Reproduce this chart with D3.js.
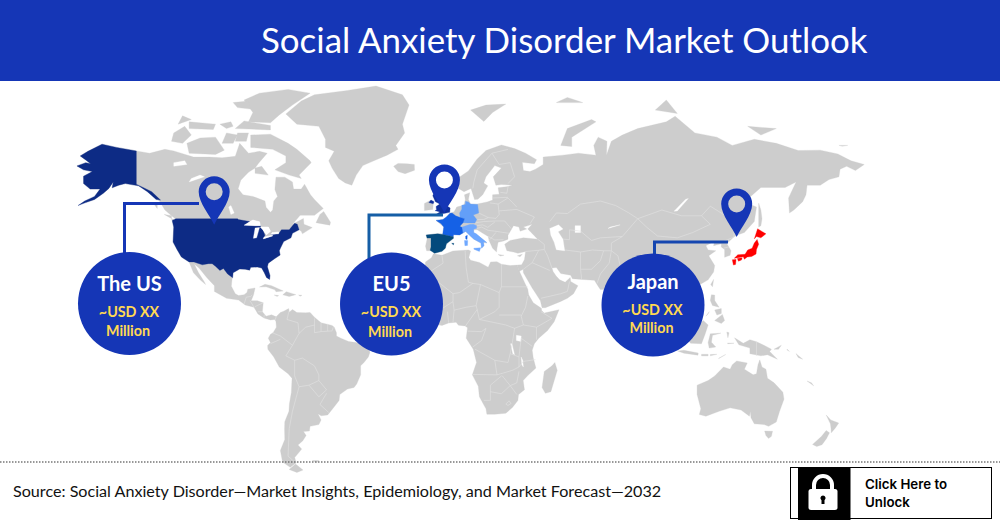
<!DOCTYPE html>
<html>
<head>
<meta charset="utf-8">
<script src="https://cdn.jsdelivr.net/npm/d3@7"></script>
<style>
  html, body { margin: 0; padding: 0; background: #fff; }
  svg { display: block; }
  text { font-family: Lato, sans-serif; }
</style>
</head>
<body>
<div id="holder"></div>
<script>
// DATA (lon, lat outlines)
const titleText = "Social Anxiety Disorder Market Outlook";
const sourceText = "Source: Social Anxiety Disorder\u2014Market Insights, Epidemiology, and Market Forecast\u20142032";
const unlockLines = ["Click Here to", "Unlock"];
const regionNames = ["The US", "EU5", "Japan"];
const regionValues = ["~USD XX", "~USD XX", "~USD XX"];
const regionUnits = ["Million", "Million", "Million"];
const pinLon = [-105.6, -0.9, 132];
const pinLat = [46.8, 51, 42.3];

const northAmerica = [[-168,65.6],[-164,66.5],[-161.8,66.2],[-163.7,67.1],[-166.5,68.3],[-163,69.5],[-156.6,71.3],[-150,70.5],[-141,69.6],[-135,69],[-128,70],[-124,69.6],[-115,68],[-108,68],[-102,67.8],[-96,68.2],[-94,71.5],[-90,69],[-85,69.5],[-81.5,69],[-85.5,66.3],[-87,65],[-90,63.8],[-93.5,61.5],[-94.7,58.9],[-92.5,57],[-88,56.5],[-82.5,55],[-82,52.9],[-80,51.2],[-79,52],[-78.5,55],[-76.8,56.5],[-78,58.7],[-77.5,62.4],[-73.5,62.4],[-70,61],[-69.5,58.8],[-66,58.8],[-64.5,60.3],[-61.8,57],[-60,55.5],[-56,52.5],[-60,50.2],[-66.5,50.2],[-70,47],[-65,49.1],[-64.8,47],[-61,45.8],[-65.5,43.5],[-66,44.5],[-67,45],[-70,43.7],[-70.7,42],[-74,40.6],[-75.5,38],[-76,37],[-75.6,35.3],[-78,33.9],[-81,32],[-81.4,30.5],[-80.2,26.8],[-80.4,25.2],[-81.8,26],[-82.8,28],[-84,30],[-86,30.4],[-89,30.3],[-89.5,29.1],[-91.5,29.5],[-94,29.6],[-97,28],[-97.5,25],[-97.8,22.3],[-96,19],[-94.5,18.2],[-92,18.6],[-90.7,19.5],[-90.3,21],[-87,21.5],[-87.7,18.5],[-88.8,15.9],[-86,15.9],[-83.3,15],[-83.7,11],[-82,9],[-79.5,9.6],[-77.4,8.7],[-78,7.5],[-80,7.3],[-83,8.2],[-85.7,10],[-87.5,13],[-91.5,14],[-94.5,16.2],[-100,17],[-105.5,20],[-105.5,22.5],[-109,26],[-112.5,30],[-114.7,31.7],[-112.7,28],[-110,24],[-109.5,23],[-112,25],[-115,28],[-117,32.5],[-120.5,34.5],[-122.5,37.5],[-124.3,40.4],[-124,46],[-124.7,48.4],[-122.5,48.5],[-125,50],[-128,52],[-130.3,54.8],[-133.5,57.5],[-137,58.8],[-140,59.8],[-146,60.5],[-149,60],[-152,59.2],[-151.5,61],[-153.5,59],[-156,57.5],[-160,55.5],[-164,54.5],[-160,56.5],[-157.5,58.8],[-162,58.8],[-165,60.5],[-165,62.7],[-161,64],[-165,64.5]];
const southAmerica = [[-77.4,8.7],[-75.5,10.7],[-74,11.2],[-71.7,12.4],[-71.5,10.8],[-70,12],[-68,10.6],[-64,10.5],[-62,10.7],[-60,8.5],[-57,6],[-52,4.8],[-51,4],[-50,1.5],[-50,0],[-48,-1],[-44.5,-2.5],[-41,-3],[-38,-4],[-35.2,-5.5],[-34.8,-7.5],[-35.5,-9.5],[-37.5,-12],[-39,-13.5],[-39,-17.5],[-40.8,-21.5],[-42,-23],[-45,-23.7],[-48.5,-26],[-48.8,-28.5],[-52,-32.3],[-54,-34.5],[-57,-34.8],[-58.4,-34],[-57,-36.5],[-58,-38.3],[-62,-39],[-62.3,-40.8],[-65,-41],[-63.8,-42.5],[-65.3,-44.5],[-67.5,-46],[-65.8,-47.5],[-69,-50.5],[-68.3,-52.3],[-71,-53.8],[-74.5,-52],[-75.5,-48],[-73.5,-44],[-73.6,-40],[-73.5,-37.2],[-71.6,-33],[-71.4,-30],[-70.5,-25],[-70.2,-19],[-72,-17],[-76,-14],[-78.5,-9.5],[-81.2,-6],[-81.3,-4.3],[-80,-3],[-81,-1],[-80,0.8],[-78.8,1.5],[-77.3,4],[-77.5,6.5],[-78,7.5]];
const africa = [[-5.9,35.8],[-2,35.2],[3,36.9],[10,37.3],[11,36.9],[10.2,34.3],[11,33.2],[15,32.3],[19,30.3],[20.1,32.5],[23,32.6],[25,31.6],[29,31],[32.3,31.2],[32.6,29.9],[33.6,27.8],[35.5,24],[37,21],[37.4,18.5],[39.5,15],[43.2,12.5],[43.3,11.5],[44.5,10.4],[51.2,11.9],[49,6.5],[46,2.5],[42,-1],[40,-3.5],[39,-6.5],[39.5,-10],[40.7,-14.5],[37,-17.8],[34.9,-20],[35.5,-24],[32.8,-26],[32.5,-28.5],[30,-31.5],[27,-33.8],[22,-34.2],[18.4,-34.2],[18,-32],[15,-27],[14.5,-22.5],[11.8,-17.5],[13.7,-12],[12.2,-6],[9,-1],[9.6,3.8],[8.5,4.6],[5.5,4.9],[4.4,6.3],[1,5.9],[-2,4.8],[-4.5,5.2],[-7.6,4.4],[-11.5,6.9],[-13.3,9],[-15,11],[-16.7,12.4],[-17.5,14.7],[-16.3,19],[-17,21],[-15.5,24],[-13,27.8],[-9.8,29.8],[-9.5,32.5],[-6.8,34.2]];
const eurasia = [[-9,37],[-9.5,38.8],[-8.8,41.5],[-9.2,43.1],[-4,43.5],[-1.5,43.4],[-1.2,46],[-4.7,48.4],[-1.6,48.7],[0,49.6],[1.6,50.9],[3.5,51.4],[4.7,53],[8,53.7],[8.6,55.5],[8.2,57],[10.6,57.7],[10,55.5],[11,54],[14,54],[18.5,54.7],[21,55.3],[21,57],[24,57.2],[23.5,59.2],[28,59.6],[30,60],[25,60.2],[22.5,60],[21.3,62.5],[25,65],[22,65.7],[18,62.5],[17,60.7],[18.8,59.8],[16.5,57],[14.3,55.6],[12.8,55.5],[11.2,59],[8,58],[5.5,59],[5,62],[10,64.2],[14,67.5],[18,69.7],[25,71.1],[31,70.2],[36,69],[41,67.3],[40,66.2],[34.5,66.6],[35,64.3],[38,64],[40.5,64.7],[44,66],[44,68],[53,68.5],[60,69],[68,68.5],[67,71],[69,73],[73,72],[72.8,68.5],[75,72],[80,73.5],[87,75],[100,76.5],[104,77.7],[113,74],[123,73],[130,71],[140,72.5],[150,71.5],[160,69.7],[170,69.8],[178,68.8],[184,67],[190,66],[186,64.3],[182,65.5],[179,64.7],[178.5,62.5],[174,61.7],[170,60],[164,60],[163.5,57],[162,54.8],[158,52],[156,51],[155.6,56],[159,61],[154,59.3],[143,59.3],[135.5,54.7],[141,53],[140,48],[135.5,44],[132,43],[130.7,42.3],[127.5,39.8],[129.4,37],[129,35.2],[126.5,34.4],[126.5,37.5],[125,38.5],[125,39.7],[121.5,39],[122,40.8],[118,39],[119,37.3],[122.5,37],[119.3,35],[122,31],[121.5,28.3],[119,25],[114,22.3],[110.5,21],[108,21.5],[106,19],[109,15],[109.2,11.7],[106.7,10],[105,8.7],[105,10.3],[102.5,12],[100.9,13.4],[100,13.3],[99.3,10],[100.5,7],[103.5,4],[104.2,1.4],[101.3,2.8],[100.3,6],[98.3,8],[98.5,12],[97.7,16.5],[94.3,16],[94.5,18.5],[92,21.5],[90,22],[87,21.4],[85,19.7],[80.3,15.5],[80,12],[79.8,10.3],[77.5,8],[75,12],[73,18],[72.7,21],[70,20.8],[69,22.3],[67.3,24.8],[61.6,25.2],[57.3,25.5],[56.5,27],[52,27.7],[50,30.2],[48,30],[48.5,28.5],[50,26.5],[51.5,25],[54,24],[56.3,26],[56.5,24.3],[59.8,22.5],[57.8,19],[55,17],[52,15.6],[45,12.8],[43.5,12.8],[42.7,16],[39,21.5],[35,28],[34.9,29.5],[33,28.5],[32.6,29.9],[32.3,31.2],[34.2,31.3],[35.5,33.5],[36,36.7],[32.5,36],[30.5,36.5],[27.5,37],[26.5,39.5],[29,41],[35,42],[41.5,41.5],[38,44.5],[37,45.3],[39,47],[35,46],[36.5,45.3],[33.5,44.5],[33,46],[30.5,46.5],[28,43],[28,41.5],[26,40.8],[23.5,40.3],[23,38],[22.8,36.5],[21,38],[19.4,41],[19,42.5],[14,45],[12.4,45],[12.4,44],[16,41.8],[18.4,40],[16.8,40.2],[17,39],[16,38],[15.7,40],[12.5,41.5],[10.5,43],[8.8,44.4],[6,43.1],[3.2,43.2],[3.2,41.8],[0,39.7],[-0.5,38],[-2,36.8],[-5.4,36],[-6.5,37]];
const australia = [[114,-22],[114,-26],[115.7,-32],[115,-34.3],[118,-35],[124,-33],[129,-31.6],[134,-32.5],[137.8,-35],[138.2,-33],[138.5,-35.6],[140,-38],[144.5,-38.3],[146.5,-39],[150,-37.3],[151.5,-33],[153.5,-28],[153,-25],[149,-21],[146,-19],[145.3,-15],[143.5,-14],[142.5,-10.8],[141.7,-13],[141,-17],[139.5,-17.5],[135.5,-15],[136.8,-12.2],[132,-11.3],[130,-13],[129,-15],[126,-14],[122,-18],[119,-20]];
const greenland = [[-73,78.2],[-66,80.8],[-60,82],[-45,82.8],[-32,83.6],[-20,82],[-17,80],[-20,76],[-19,74],[-23,71],[-22,70],[-27,68.5],[-33,67],[-38,65.7],[-41,63],[-43,60],[-46,60.7],[-49,62],[-52,65],[-53.5,67],[-51,69.5],[-55,70.5],[-55,72.5],[-58,75.5],[-68,76]];
const canadaIslands = [
  [[-61.5,66.5],[-67,63],[-66,62],[-71.5,63],[-78,64.5],[-73,66.5],[-73,68.3],[-79,70],[-89,70.5],[-89,73.5],[-80,73.7],[-72,71.5],[-68,70],[-62,67]],
  [[-117,69],[-105,68.7],[-101,69.8],[-105,73],[-112,72.8],[-118,71.5]],
  [[-125,72],[-120,71.5],[-116,73.5],[-119,75.5],[-124,74]],
  [[-90,76.5],[-80,76.3],[-76,78],[-70,80],[-62,82.3],[-72,83],[-85,82.3],[-92,81],[-88,78.5]],
  [[-95,79.5],[-89,79.2],[-90,80.8],[-97,80.5]],
  [[-96,75],[-80,74.7],[-80,75.7],[-92,76.7]],
  [[-117,75],[-106,74.8],[-105,76],[-117,76.5]],
  [[-100,75],[-97,75.5],[-98,76.5],[-103,76]],
  [[-122,76],[-116,77],[-120,77.8]],
  [[-102,71.5],[-97,71.5],[-95,73.5],[-100,74]],
  [[-96,72],[-91,72],[-90,74],[-95,74]],
  [[-87,63.5],[-81,63],[-84,65.5],[-87,65]],
  [[-59.3,47.6],[-53,46.7],[-52.7,47.7],[-55.8,51.5],[-57.5,50.5]],
  [[-128.3,50.5],[-123.5,48.4],[-125,48.7],[-125,50]],
  [[-133,54],[-131.5,54],[-131.5,52.5]]
];
const otherIslands = [
  [[-85,21.9],[-82.5,23.1],[-79.5,22.5],[-74.2,20.2],[-77.5,19.9],[-78,20.7],[-82,22]],
  [[-74.4,18.5],[-72.8,19.9],[-68.5,18.6],[-71.5,17.8]],
  [[-78.3,18.4],[-76.3,18.2],[-77,17.8]],
  [[-67.2,18.4],[-65.7,18.3],[-66.5,17.9]],
  [[-68.6,-52.7],[-65.2,-54.7],[-68,-55.5],[-71.5,-54.5]],
  [[-61,-51.5],[-58,-51.5],[-59,-52.3]],
  [[-10,51.8],[-6.2,52.2],[-6,54],[-7,55.3],[-10,54.2]],
  [[-24,65.5],[-22,64],[-18.8,63.4],[-14.5,64.4],[-14.6,66],[-18,66.2],[-22,66.3]],
  [[11,79],[17,76.6],[21,78.5],[27,80.2],[18,80]],
  [[52,71],[57,70.7],[57,73],[68,76.5],[66,77],[55,75]],
  [[95,79],[105,78.3],[100,81]],
  [[137,75.5],[150,75],[143,73.5]],
  [[178.5,71],[182.5,71],[180,70.8]],
  [[50,80.5],[62,80.5],[55,81.5]],
  [[142,54.3],[143,52],[143.5,49],[143,46.5],[142,46],[142,50]],
  [[32.3,35],[34.5,35.6],[33.5,34.6]],
  [[23.5,35.5],[26.2,35.2],[24.5,34.9]],
  [[49.3,-12],[50.4,-15.5],[47.5,-24.8],[45,-25.5],[43.5,-23],[44.5,-16],[48,-13.5]],
  [[79.8,9.7],[81.8,7.5],[80.5,6]],
  [[95.3,5.6],[98,4],[104,-1],[106,-3.5],[105.8,-5.8],[102,-4],[98.5,1]],
  [[105.2,-6.8],[108,-6.5],[114.5,-7.7],[114.4,-8.7],[108,-7.8]],
  [[109,1.5],[111,1.5],[113,3.3],[116.8,7],[119,5],[117.7,1],[116,-3.5],[111,-3.3],[109.2,-0.5]],
  [[119.5,-5.5],[119,-3],[120,1],[124.8,1.3],[121,0.3],[120.5,-2.8],[122.5,-5]],
  [[120.5,18.5],[122,18.4],[122,16],[124,13],[121,13.8],[120,16]],
  [[122,7],[125.5,9.8],[126.5,7],[125,5.7]],
  [[122,11.8],[125,12.4],[125,10.2],[123,9.5]],
  [[118,9],[119.5,11],[119,10]],
  [[120.2,23],[121.5,25.2],[121,22]],
  [[108.7,19.5],[110.5,20],[110,18.3]],
  [[131,-0.8],[135,-3.3],[138,-1.7],[141,-2.6],[145,-4.5],[147.8,-6],[147,-7],[150.5,-10.5],[146,-8.5],[143,-9],[138,-8],[138,-5.5],[133,-4]],
  [[116,-8.3],[119,-8.3],[119,-9],[116,-9]],
  [[120,-8.4],[123,-8.3],[120,-9]],
  [[124,-10],[127,-8.4],[123.7,-10.3]],
  [[127.5,1.8],[128.5,1.5],[128,-0.8]],
  [[127.8,-3.2],[130.8,-3.3],[128,-3.5]],
  [[149,-6],[152.3,-4.2],[151,-6]],
  [[155,-6],[156,-7],[154.8,-6.3]],
  [[159,-8],[162,-10.5],[160,-9.8]],
  [[166,-21],[164,-20.2],[167,-22.3]],
  [[144.7,-40.8],[148.3,-40.9],[147.8,-42.8],[146.5,-43.6],[145.3,-42.5]],
  [[172.7,-34.5],[174.8,-36.5],[178.4,-37.7],[176.8,-39.7],[175,-41.5],[174.9,-39.8],[174.6,-38]],
  [[172.7,-40.6],[174.2,-41.5],[172.8,-43.7],[170.8,-45.9],[168.4,-46.6],[166.5,-45.8],[170.5,-42.9]]
];
const lakes = [
  [[-92,46.7],[-88,48.5],[-85,47.9],[-84.6,46.5],[-87,46.5]],
  [[-87.8,41.8],[-86.3,42],[-85,45.8],[-87,45.7]],
  [[-84.5,46],[-81,46],[-80,44.5],[-81.8,43.2],[-83.5,45]],
  [[-83.3,41.6],[-79,42.7],[-79,43],[-83,42.2]],
  [[-79.7,43.3],[-76.3,43.5],[-76.3,44.2],[-79.3,43.9]],
  [[-124,65.5],[-118,66],[-119,67],[-124,66.5]],
  [[-117,61],[-110,62.5],[-112,63],[-116,62]],
  [[-98,50.5],[-96.5,51],[-98,53.5],[-99,53]],
  [[47,45.5],[51,46.8],[53,45.3],[50.8,44.3],[53,41.5],[53.8,37],[50,37.4],[49,40.3],[47.5,43]],
  [[58.5,46.5],[61,46.5],[61,44],[58.5,44]],
  [[73.5,45.5],[79,46.8],[74.5,46]],
  [[103.5,51.6],[105,51.7],[110,55.8],[108.8,55.6]],
  [[31.8,0.3],[34,0],[33.8,-2.5],[31.8,-2]],
  [[29.2,-3.5],[29.8,-3.5],[31,-8.5],[30.2,-8]],
  [[34,-9.5],[34.7,-11],[35,-14],[34.3,-13]]
];
const alaska = [[-168,65.6],[-164,66.5],[-161.8,66.2],[-163.7,67.1],[-166.5,68.3],[-163,69.5],[-156.6,71.3],[-150,70.5],[-141,69.6],[-141,60.3],[-137,59],[-134,58],[-130,55.3],[-132,55.5],[-136,58],[-140,59.8],[-146,60.5],[-149,60],[-152,59.2],[-151.5,61],[-153.5,59],[-156,57.5],[-160,55.5],[-164,54.5],[-167.5,53.5],[-164.5,55],[-160,56.5],[-157.5,58.8],[-162,58.8],[-165,60.5],[-165,62.7],[-161,64],[-165,64.5]];
const contiguousUS = [[-124.7,48.4],[-123,49],[-95,49],[-94.6,48.7],[-89.5,48],[-92,46.7],[-87,46.5],[-84.6,46.5],[-84.5,46],[-87,45.7],[-85,45.8],[-85.5,44],[-86.3,42],[-87.8,41.8],[-87.8,43],[-86,45.5],[-84.7,45.8],[-83.5,45],[-82.5,43],[-83,42.2],[-83.3,41.6],[-79,42.7],[-79.7,43.3],[-76.3,43.5],[-75,45],[-71.5,45],[-70,46.5],[-69,47.4],[-67.8,47],[-67,45],[-70,43.7],[-70.7,42],[-74,40.6],[-75.5,38],[-76,37],[-75.6,35.3],[-78,33.9],[-81,32],[-81.4,30.5],[-80.2,26.8],[-80.4,25.2],[-81.8,26],[-82.8,28],[-84,30],[-86,30.4],[-89,30.3],[-89.5,29.1],[-91.5,29.5],[-94,29.6],[-97,28],[-97.2,25.9],[-99.5,27.5],[-101.4,29.8],[-103,29],[-104.9,30.6],[-106.5,31.8],[-108.2,31.8],[-111,31.3],[-114.8,32.5],[-117,32.5],[-120.5,34.5],[-122.5,37.5],[-124.3,40.4],[-124,46]];
const france = [[-4.7,48.4],[-1.6,48.7],[0,49.6],[1.6,50.9],[2.6,51],[4.2,50],[6,49.5],[8.2,49],[7.6,47.6],[6.1,46.3],[7,45.9],[7.5,43.8],[6,43.1],[3.2,43.2],[3.1,42.4],[-1.7,43.3],[-1.2,46],[-2.5,47.3]];
const corsica = [[8.7,42.6],[9.5,43],[9.4,41.4],[8.8,41.6]];
const germany = [[7,53.6],[8.6,53.9],[8.7,54.9],[10,54.7],[11,54],[14.2,53.9],[14.7,51],[12.2,50.3],[13.8,48.7],[13,47.5],[9.6,47.5],[7.6,47.6],[8.2,49],[6.2,49.5],[6,51],[7,52.3]];
const italy = [[6.8,45.9],[10.5,46.9],[12.3,47],[13.7,46.5],[13.7,45.6],[12.4,45.2],[12.4,44],[13.6,43.5],[16,41.8],[18.4,40.2],[16.9,40.4],[17.1,39],[16,38],[15.7,40],[12.5,41.5],[10.5,43],[8.8,44.4],[7.5,43.8]];
const sicily = [[12.5,38],[15.6,38.2],[15,36.7],[12.5,37.6]];
const sardinia = [[8.2,41],[9.7,41],[9.6,39.1],[8.4,39]];
const spain = [[-9.2,43.1],[-4,43.5],[-1.7,43.3],[3.1,42.4],[3.2,41.8],[0,39.7],[-0.5,38],[-2,36.8],[-5.4,36],[-7.4,37.2],[-7,38.5],[-7,41.9],[-8.8,41.9]];
const mallorca = [[2.4,39.9],[3.4,39.9],[3.2,39.3]];
const britain = [[-5.5,50.1],[1.5,51.2],[1.7,52.7],[0,53.5],[-2,56],[-2,57.6],[-4,57.7],[-3.1,58.6],[-5,58.5],[-6.2,56.7],[-5,54.8],[-3,54],[-4.7,53.2],[-4.5,52],[-5.2,51.8],[-3,51.3]];
const northernIreland = [[-8,54.5],[-6,54.1],[-5.6,54.8],[-7,55.3]];
const hokkaido = [[140,41.6],[141.5,45.4],[145.3,43.5],[143,42],[141,42.5]];
const honshu = [[130.9,34],[132.5,35.4],[135.8,35.6],[137,37.3],[139,38],[140,40],[141.3,41.4],[142,39.5],[141,37.5],[140.8,35.7],[138.8,34.7],[136.8,34.5],[135.5,33.6],[135,34.6],[132.5,34.2]];
const shikoku = [[132.3,33.9],[134.5,34.2],[134.2,33.3],[132.8,32.8]];
const kyushu = [[130,33.4],[131.7,33.5],[131.5,31.5],[130.5,31.2]];

const borders = [
  [[19.8,54.4],[23.5,54],[24,50.5],[22.5,49.1],[19,49.4],[14.7,51]],
  [[13.8,48.7],[17,48.7],[19,49.4]],[[13,47.5],[17,48],[22.5,48.2]],[[13.7,46.5],[16.5,46.8],[18.8,45.9],[22,47.8]],
  [[22.5,48.2],[26.5,48.2],[29.5,45.4]],[[22,44.5],[28.5,43.7]],[[24,51.7],[32,52.2],[40,49.6],[38,47.2]],[[23.5,54],[28,56],[32,53]],
  [[21,56],[28,56.2]],[[24.5,57.8],[27.5,57.5],[28,59.5]],[[24,66],[29,66.5],[31,62.5],[28,60.5]],[[20.7,69],[24,66]],[[12,59],[12.5,61],[14,64.5],[20.7,69],[28,70]],
  [[19,42.5],[22,41.2],[26,41.3]],[[19.4,41],[21,42.5],[22.5,44]],[[14,45.5],[16,46],[19,44.8],[22,44.5]],
  [[36,36.7],[42,37.2],[44.5,37.5],[44.5,39.5],[41.5,41.5]],[[44.5,37.5],[46,35],[48,30]],[[39,32.2],[47,29]],[[35,29.5],[39,32.2],[42,37.2]],[[43,17],[52,19],[55,20],[56,24.3]],
  [[61.5,25.2],[61,29.5],[61,36.5],[54,37.3]],[[61,29.5],[66,29.5],[70,33],[71.5,37],[75,37]],[[61,36.5],[66.5,37.3],[71.5,37]],[[53,41.5],[56,41.3],[56,45],[61,44.5],[66,41],[70,42],[80,42.5]],
  [[47,48],[50,51],[55,50.8],[61,54],[70,55],[77,53.5],[83,51],[87,49]],[[87,49],[80,42.5],[75,40],[75,37],[78,35],[79,31],[81,30],[88,28],[97,28.5],[98,24],[102,22],[106,23],[108,21.5]],
  [[87,49],[98,52],[107,50],[116,50],[120,47],[112,44],[105,42],[96,42.7],[91,46],[87,49]],[[116,50],[120,53.3],[127,50],[135,48.4],[131,44.8],[130.7,42.3]],[[124.4,40],[130.7,42.3]],[[126,38],[128.5,38.5]],
  [[75,37],[74,32],[70,27.5],[68.5,23.5]],[[88,28],[88,26],[92,25],[92,22]],[[97,28.5],[94,24],[92,21.5]],[[98,24],[101,21],[98,17],[99,11]],[[102,22],[105,18],[107.5,15],[106,11]],[[102.5,12],[103,14.3],[107.5,14.5]],
  [[-2,35],[-1.5,32],[-8.7,27.7],[-13,27.8]],[[-8.7,27.7],[-12,26],[-12,22],[-17,21]],[[-12,22],[-5,25],[-6,15.5],[-12,15],[-16.3,16.3]],[[8.5,37],[9,30],[10,24],[12,23.5]],[[-5,25],[3,19],[6,19.5],[12,23.5]],
  [[3,19],[3,15.5],[-5,10.5],[-8,10],[-12,12.5],[-12,15]],[[3,15.5],[3.5,11.7],[9,13],[13.5,13.7]],[[13.5,13.7],[15.5,23],[12,23.5]],[[25,31.6],[25,22],[37,22]],[[25,22],[24,19.5],[15.5,23]],
  [[24,19.5],[24,13],[22,11],[15,7.5],[14,12],[13.5,13.7]],[[37,18],[36,13],[34,9],[35,5],[41,4],[48,8],[43,11]],[[41,4],[41,-1.7]],[[34,-1],[39,-4.7]],[[31,3.5],[30,-3],[29,-8],[28,-12],[22,-11],[13,-6]],
  [[15,7.5],[27,5],[31,3.5],[35,5]],[[24,9.5],[34,9.5]],[[3,6.3],[3.5,11.7]],[[14,12],[8.7,4.6]],[[9.6,2.2],[16,2],[18,3.5],[16,-2],[12,-5]],[[12,-17.3],[23,-17.5],[22,-11]],[[23,-17.5],[30,-15.5],[33,-14],[33,-9.5],[29,-8]],
  [[25.3,-17.8],[29,-22.2],[32,-21],[33,-16]],[[33,-14],[35,-11.5],[40.5,-10.7]],[[17,-28.5],[20,-28.5],[20,-22],[25,-18]],[[20,-24.8],[25,-25.7],[29,-22.2],[32,-26]],[[27,-30],[28.5,-28.7],[29.4,-29.8],[28,-30.6],[27,-30]],
  [[-3,5],[-3,11]],[[1,6],[0.5,11]],[[-8,10],[-8,4.5]],[[33,-9.5],[34,-1]],
  [[-71.5,11.5],[-72.5,7.5],[-67.5,6],[-67,1.2]],[[-67,1.2],[-70,-4.2]],[[-79,1.4],[-75.5,0],[-70,-4.2]],[[-80,-3.5],[-75.5,-1.5]],[[-70,-4.2],[-73,-9],[-69,-11]],
  [[-69,-11],[-65.5,-10],[-60,-13.5],[-58,-17.5],[-58,-20],[-62.5,-22],[-67,-22.7],[-69,-18],[-69,-11]],[[-67,-22.7],[-70,-33],[-71.5,-40],[-72,-50],[-69,-52]],[[-58,-20],[-54.5,-24],[-58,-27],[-62.5,-22]],
  [[-57.5,-30.2],[-53.5,-33.5]],[[-54.5,-25.5],[-57.5,-30.2]],[[-60,8],[-60,5],[-64,4],[-67,1.2]],[[-57,6],[-57,2]],[[-54,5.5],[-54,2.3]],[[-51.5,4],[-52,2.3],[-57,2],[-60,1.5],[-60,5]],
  [[-92,14.5],[-91,17.5],[-89,17.8],[-88.3,18.5]],[[-89.3,15.9],[-87.5,13]],[[-83.3,15],[-87,13.3]],[[-85.7,11],[-83.7,11]],[[-83,8.2],[-82.8,9.6]],[[-77.4,8.7],[-77.9,7.2]],[[141,-2.6],[141,-9]]
];

// LAYOUT
const w = 1000;
const h = 520;
const headerH = 81;
const greyLand = "#cdcdcd";
const blue = "#1536b6";
const navy = "#0d2b85";
const gold = "#ffd952";

const bubbleX = [129.5, 391.5, 653];
const bubbleY = [303.5, 304, 305];
const bubbleR = 51.5;
const leaderX = [124.5, 369, 654.5];
const leaderY = [203.5, 215, 242];
const leaderEnd = [199, 443, 728];
const leaderColor = ["#1536b6", "#155ea6", "#1546b0"];
// text baselines inside each bubble, Japan sits a little higher
const nameY = [-13, -13, -16];
const valueY = [13, 13, 10];
const unitY = [32.5, 32.5, 28];

// CREATE SVG
const svg = d3.select("#holder")
    .append("svg")
    .attr("width", w)
    .attr("height", h)
    .attr("viewBox", [0, 0, w, h])

// MILLER PROJECTION, rotated so that Chukotka stays on the right edge
function millerRaw(lambda, phi) {
    return [lambda, 1.25 * Math.log(Math.tan(Math.PI / 4 + 0.4 * phi))];
}

const projection = d3.geoProjection(millerRaw)
    .rotate([-11, 0])
    .scale(126)
    .translate([470.6, 336])
    .precision(0)

const outline = d3.line().curve(d3.curveLinear)
const ringPath = ring => outline(ring.map(d => projection(d))) + "Z"
const linePath = pts => outline(pts.map(d => projection(d)))

function drawRings(rings, fill) {
    svg.append("g")
        .selectAll("path")
        .data(rings)
        .enter()
        .append("path")
        .attr("d", ringPath)
        .attr("fill", fill)
        .attr("stroke", fill)
        .attr("stroke-width", 0.3)
}

// MAP
drawRings([northAmerica, southAmerica, africa, eurasia, australia, greenland], greyLand)
drawRings(canadaIslands, greyLand)
drawRings(otherIslands, greyLand)
drawRings(lakes, "#fff")

svg.append("g")
    .selectAll("path")
    .data(borders)
    .enter()
    .append("path")
    .attr("d", linePath)
    .attr("fill", "none")
    .attr("stroke", "#e2e2e2")
    .attr("stroke-width", 0.6)

// HIGHLIGHTED MARKETS
drawRings([alaska, contiguousUS], navy)
drawRings(lakes.slice(0, 5), "#fff")
drawRings([germany], "#639ff8")
drawRings([italy, sicily, sardinia], "#6ea8ff")
drawRings([france, corsica], "#1561e6")
drawRings([spain, mallorca], "#044a7d")
drawRings([britain, northernIreland], "#10309c")
drawRings([hokkaido, honshu, shikoku, kyushu], "#ff0000")

// HEADER
svg.append("rect")
    .attr("width", w)
    .attr("height", headerH)
    .attr("fill", blue)

svg.append("text")
    .attr("x", 261)
    .attr("y", 52.5)
    .attr("fill", "#fff")
    .attr("font-size", 34.9)
    .text(titleText)

// LEADER LINES
svg.append("g")
    .selectAll("path")
    .data(regionNames)
    .enter()
    .append("path")
    .attr("d", (d, i) => `M${leaderX[i]},${bubbleY[i] - 40}V${leaderY[i]}H${leaderEnd[i]}`)
    .attr("fill", "none")
    .attr("stroke", (d, i) => leaderColor[i])
    .attr("stroke-width", 3)

// PINS, the hole lets the map show through
function pinPath(tip) {
    const r = 15.5, hole = 8.5, drop = 33;
    const x = tip[0], y = tip[1], cy = y - drop;
    const p = d3.path();
    p.moveTo(x, y);
    p.bezierCurveTo(x + 4, y - 9, x + r, cy + 11, x + r, cy);
    p.arc(x, cy, r, 0, Math.PI, true);
    p.bezierCurveTo(x - r, cy + 11, x - 4, y - 9, x, y);
    p.closePath();
    p.moveTo(x + hole, cy);
    p.arc(x, cy, hole, 0, 2 * Math.PI);
    return p.toString();
}

svg.append("g")
    .selectAll("path")
    .data(regionNames)
    .enter()
    .append("path")
    .attr("d", (d, i) => pinPath(projection([pinLon[i], pinLat[i]])))
    .attr("fill", blue)
    .attr("fill-rule", "evenodd")

// BUBBLES
const bubbles = svg.append("g")
    .selectAll("g")
    .data(regionNames)
    .enter()
    .append("g")
    .attr("transform", (d, i) => `translate(${bubbleX[i]},${bubbleY[i]})`)

bubbles.append("circle")
    .attr("r", bubbleR)
    .attr("fill", blue)

bubbles.append("text")
    .attr("y", (d, i) => nameY[i])
    .attr("text-anchor", "middle")
    .attr("fill", "#fff")
    .attr("font-size", 20)
    .attr("font-weight", 700)
    .text(d => d)

bubbles.append("text")
    .attr("x", -0.5)
    .attr("y", (d, i) => valueY[i])
    .attr("text-anchor", "middle")
    .attr("fill", gold)
    .attr("font-size", 14.3)
    .attr("font-weight", 700)
    .text((d, i) => regionValues[i])

bubbles.append("text")
    .attr("x", -1.5)
    .attr("y", (d, i) => unitY[i])
    .attr("text-anchor", "middle")
    .attr("fill", gold)
    .attr("font-size", 14.3)
    .attr("font-weight", 700)
    .text((d, i) => regionUnits[i])

// FOOTER
svg.append("line")
    .attr("x1", 0)
    .attr("x2", w)
    .attr("y1", 462)
    .attr("y2", 462)
    .attr("stroke", "#777")
    .attr("stroke-width", 1.5)
    .attr("stroke-dasharray", "1.5 1.5")

svg.append("text")
    .attr("x", 13)
    .attr("y", 497)
    .attr("fill", "#111")
    .attr("font-size", 16.15)
    .text(sourceText)

// UNLOCK BUTTON
svg.append("rect")
    .attr("x", 790.5)
    .attr("y", 467.5)
    .attr("width", 201)
    .attr("height", 51)
    .attr("fill", "#fff")
    .attr("stroke", "#000")

svg.append("rect")
    .attr("x", 798)
    .attr("y", 467)
    .attr("width", 52.5)
    .attr("height", 53)
    .attr("fill", "#000")

svg.append("path")
    .attr("d", "M814,490V485a9,9 0 0 1 18,0V490")
    .attr("fill", "none")
    .attr("stroke", "#fff")
    .attr("stroke-width", 4)

svg.append("rect")
    .attr("x", 808.5)
    .attr("y", 489)
    .attr("width", 29)
    .attr("height", 21)
    .attr("rx", 2.5)
    .attr("fill", "#fff")

svg.append("path")
    .attr("d", "M823,495.5a2.6,2.6 0 0 1 1.5,4.7V504h-3v-3.8a2.6,2.6 0 0 1 1.5,-4.7Z")
    .attr("fill", "#000")

svg.append("g")
    .selectAll("text")
    .data(unlockLines)
    .enter()
    .append("text")
    .attr("x", 865)
    .attr("y", (d, i) => 489 + i * 18)
    .attr("fill", "#000")
    .attr("font-size", 13.3)
    .attr("font-weight", 600)
    .style("font-family", "Inter, sans-serif")
    .text(d => d)
</script>
</body>
</html>
